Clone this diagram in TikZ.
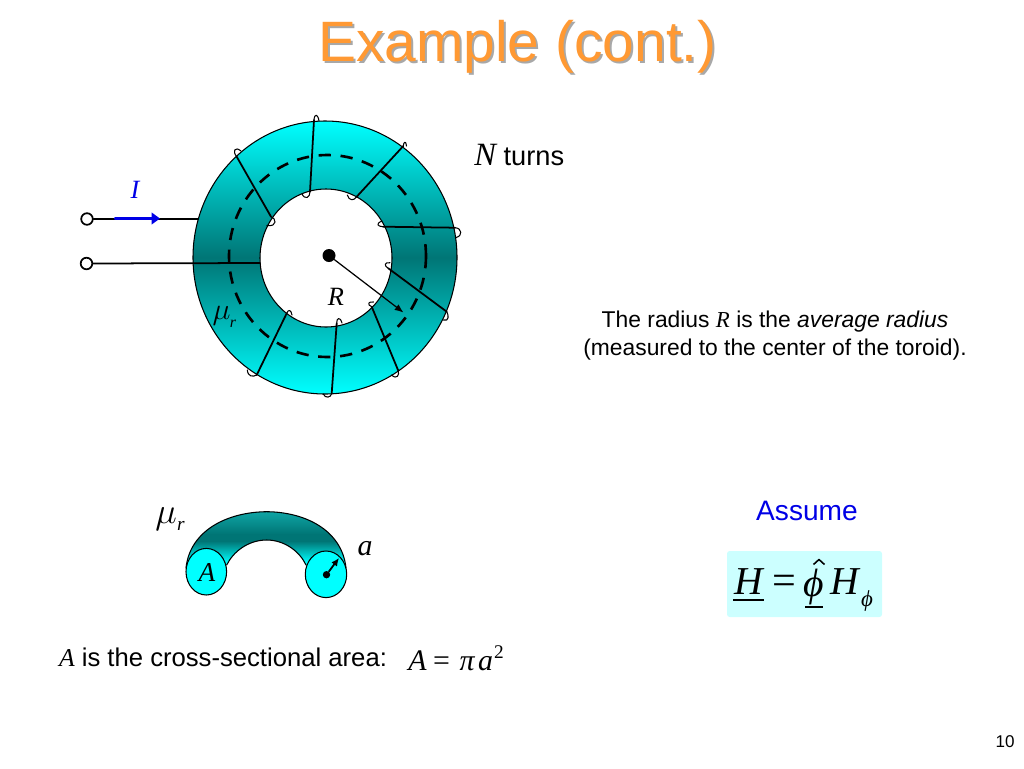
\documentclass[tikz,border=0pt]{standalone}
\usepackage{fontspec}
\setmainfont{Liberation Sans}
\newfontfamily\timesfont{Liberation Serif}
\usetikzlibrary{arrows.meta}
\definecolor{coreLight}{HTML}{00FFFF}
\definecolor{coreDark}{HTML}{007575}
\definecolor{coreMid}{HTML}{0FA5A5}
\definecolor{titleOrange}{HTML}{FF9933}
\definecolor{titleShadow}{HTML}{A8A8A8}
\definecolor{boxCyan}{HTML}{CCFFFF}
\definecolor{labelBlue}{HTML}{0000E6}
\pgfdeclareverticalshading{smallcore}{100bp}{color(0bp)=(coreLight); color(30bp)=(coreLight); color(49bp)=(coreDark); color(55bp)=(coreDark); color(75bp)=(coreMid); color(100bp)=(coreMid)}
\tikzset{
  wire/.style={draw=black, line width=1pt},
  hook/.style={draw=black, line width=0.6pt},
  outline/.style={draw=black, line width=0.6pt},
  terminal/.style={circle, draw=black, fill=white, line width=1pt, inner sep=0pt, minimum size=6.6pt},
  serifLabel/.style={inner sep=0pt, font=\timesfont\itshape\fontsize{15}{18}\selectfont},
  bodyText/.style={inner sep=0pt, font=\fontsize{14.6}{17}\selectfont},
  noteText/.style={inner sep=0pt, anchor=base, font=\fontsize{13}{16}\selectfont},
  eqnLabel/.style={inner sep=0pt, font=\timesfont\itshape\fontsize{22.5}{26}\selectfont},
  areaLabel/.style={inner sep=0pt, anchor=base, font=\timesfont\itshape\fontsize{17}{20}\selectfont}
}
% #1 = end of inner hook, #2,#3 = its controls, #4 = inner point
% #5 = outer point, #6,#7 = controls of outer hook, #8 = its end
\newcommand{\TurnWire}[8]{%
  \draw[hook] (#1) .. controls (#2) and (#3) .. (#4);
  \draw[wire] (#4) -- (#5);
  \draw[hook] (#5) .. controls (#6) and (#7) .. (#8);
}
\begin{document}
\begin{tikzpicture}[x=0.02cm, y=-0.02cm, line cap=round, line join=round]
  \useasboundingbox (0,0) rectangle (1024,768);

  % title
  \node[text=titleShadow, inner sep=0pt, font=\fontsize{32.4}{38}\selectfont] (titleBack) at (519.5,49) {Example (cont.)};
  \node[text=titleOrange, inner sep=0pt, font=\fontsize{32.4}{38}\selectfont] (title) at (517.5,47) {Example (cont.)};

  % toroid core
  \shade[even odd rule, top color=coreLight, bottom color=coreLight, middle color=coreDark]
    (325,257.5) ellipse [x radius=132, y radius=136.5]
    (326,258) ellipse [x radius=66, y radius=69];
  \draw[outline] (325,257.5) ellipse [x radius=132, y radius=136.5];
  \draw[outline] (326,258) ellipse [x radius=66, y radius=69];
  \draw[line width=1.5pt, dash pattern=on 7pt off 5.5pt, line cap=butt] (327.5,256) ellipse [x radius=98.5, y radius=101];

  % turns
  \TurnWire{302,194}{305,200}{310,198}{310,191.7}{314,120}{314.5,113}{318,114}{319,121}
  \TurnWire{347.3,195}{349,201}{354,201}{356.7,196.7}{403.3,146}{403.5,142}{406,140}{406.5,146}
  \TurnWire{382,221}{375,224}{378,226.5}{383,226.7}{455,227.7}{462,228}{463,236}{456,237.5}
  \TurnWire{390,262.7}{384,262}{384,266}{388.3,268.3}{446.7,311.7}{449,315}{449,322}{443.5,320}
  \TurnWire{373.5,302}{368,301}{367,305}{371.7,306.7}{398.3,370.7}{399.5,375}{397,380}{391.5,375}
  \TurnWire{342,323}{340,316}{336.5,318}{336.7,323.3}{331.7,393.3}{331,398}{325,398.5}{323.3,394}
  \TurnWire{292,315}{291,309}{288,309.5}{286.7,313.3}{256.7,375}{253,377}{248,377}{247.3,370}
  \TurnWire{267,225.5}{278,227}{276,218}{271,216.7}{236.7,156.7}{232,151}{235,146}{241,151}

  % leads
  \node[terminal] (termA) at (87,219) {};
  \node[terminal] (termB) at (86.5,263.5) {};
  \coordinate (leadA) at (198,219);
  \coordinate (leadB) at (260,263);
  \draw[wire] (termA) -- (leadA);
  \draw[wire] (termB) -- (leadB);
  \coordinate (currentS) at (115,218.5);
  \coordinate (currentE) at (160,218.5);
  \draw[labelBlue, line width=1.3pt, -{Triangle[length=4.8pt,width=6.6pt]}] (currentS) -- (currentE);
  \node[serifLabel, text=labelBlue] (labelI) at (135,190) {I};

  % radius
  \node[circle, fill=black, inner sep=0pt, minimum size=7.4pt] (centre) at (329,255.5) {};
  \coordinate (radiusEnd) at (403.5,312.5);
  \draw[line width=0.7pt, -{Latex[length=5pt,width=4pt]}] (centre) -- (radiusEnd);
  \node[serifLabel] (labelR) at (336,297) {R};
  \node[inner sep=0pt, font=\fontsize{17.28}{18}\selectfont] (labelMu) at (221.5,316) {$\mu$};
  \node[serifLabel, font=\timesfont\itshape\fontsize{9}{10}\selectfont] (labelMuR) at (233,324) {r};

  \node[inner sep=0pt, anchor=base west, font=\fontsize{15.5}{18}\selectfont] (turns) at (474,165) {{\timesfont\itshape\fontsize{18.5}{18}\selectfont N} turns};
  \node[noteText] (noteA) at (775,327) {The radius {\timesfont\itshape R} is the \textit{average radius}};
  \node[noteText] (noteB) at (775,355) {(measured to the center of the toroid).};

  % cross section
  \shade[shading=smallcore]
    (186,568) .. controls (190,530) and (228,512) .. (266.7,511.7)
    .. controls (305,512) and (342,530) .. (346,568)
    -- (306,565) .. controls (300,552) and (285,540) .. (266.7,540)
    .. controls (248,540) and (233,552) .. (226.7,565) -- cycle;
  \draw[outline] (186,568) .. controls (190,530) and (228,512) .. (266.7,511.7)
    .. controls (305,512) and (342,530) .. (346,568);
  \draw[outline] (226.7,565) .. controls (233,552) and (248,540) .. (266.7,540)
    .. controls (285,540) and (300,552) .. (306,565);
  \draw[outline, fill=coreLight] (206.3,571.7) ellipse [x radius=20.3, y radius=23.3];
  \draw[outline, fill=coreLight] (326,574.3) ellipse [x radius=20.7, y radius=23.3];
  \node[circle, fill=black, inner sep=0pt, minimum size=4.2pt] (smallCentre) at (326.5,574.7) {};
  \coordinate (smallEnd) at (339,558);
  \draw[line width=1pt, -{Latex[length=4.5pt,width=4pt]}] (smallCentre) -- (smallEnd);
  \node[serifLabel, font=\timesfont\itshape\fontsize{15.5}{18}\selectfont] (labelA) at (207,572.5) {A};
  \node[serifLabel, font=\timesfont\itshape\fontsize{17}{18}\selectfont] (labela) at (365,549) {a};
  \node[inner sep=0pt, font=\fontsize{20.74}{24}\selectfont] (smallMu) at (166,519) {$\mu$};
  \node[serifLabel, font=\timesfont\itshape\fontsize{11}{12}\selectfont] (smallMuR) at (181,526) {r};

  \node[bodyText] (areaText) at (223,657.5) {{\timesfont\itshape A} is the cross-sectional area:};
  \node[areaLabel] (areaA) at (417.5,670) {A};
  \node[areaLabel, font=\timesfont\fontsize{17}{20}\selectfont] (areaEq) at (441.5,670) {=};
  \node[areaLabel] (areaPi) at (467,670) {π};
  \node[areaLabel] (areaB) at (485.5,670) {a};
  \node[areaLabel, font=\timesfont\fontsize{11}{12}\selectfont] (areaSq) at (499,658) {2};

  % assumption
  \node[bodyText, text=labelBlue, font=\fontsize{16}{19}\selectfont] (assume) at (807,511) {Assume};
  \fill[boxCyan, rounded corners=1.5pt] (727,551) rectangle (882,617);
  \node[eqnLabel] (eqnH) at (749,582) {H};
  \node[eqnLabel, font=\timesfont\fontsize{24}{26}\selectfont] (eqnEq) at (784.5,585) {=};
  \node[eqnLabel] (eqnPhi) at (814,587) {ϕ};
  \draw[line width=0.9pt, line cap=butt] (813.5,564.5) -- (819,559.5) -- (824.5,564.5);
  \node[eqnLabel] (eqnHb) at (845,582) {H};
  \node[eqnLabel, font=\timesfont\itshape\fontsize{13}{15}\selectfont] (eqnSub) at (867,601) {ϕ};
  \draw[line width=0.8pt, line cap=butt] (733,600) -- (764,600);
  \draw[line width=0.8pt, line cap=butt] (805,607) -- (823,607);

  \node[inner sep=0pt, font=\fontsize{9.7}{11}\selectfont] (pageNo) at (1005,742) {10};
\end{tikzpicture}
\end{document}
